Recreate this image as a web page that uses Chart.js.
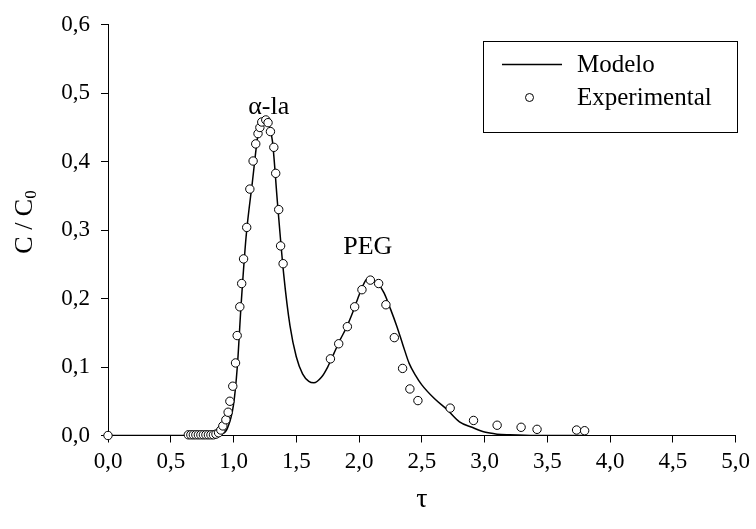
<!DOCTYPE html>
<html>
<head>
<meta charset="utf-8">
<script src="https://cdn.jsdelivr.net/npm/chart.js@4.4.1/dist/chart.umd.min.js"></script>
<style>
  html, body { margin: 0; padding: 0; background: #fff; }
  #wrap { width: 756px; height: 529px; }
</style>
</head>
<body>
<div id="wrap"><canvas id="myChart"></canvas></div>
<script>
// experimental points (tau, C/C0)
const expTau = [0, 0.64, 0.66, 0.68, 0.70, 0.72, 0.74, 0.76, 0.78, 0.80, 0.82, 0.84, 0.86,
  0.881, 0.899, 0.915, 0.939, 0.957, 0.971, 0.994, 1.016, 1.029, 1.050, 1.065, 1.080, 1.105,
  1.130, 1.156, 1.177, 1.195, 1.210, 1.225, 1.257, 1.275, 1.294, 1.321, 1.336, 1.360, 1.375, 1.395,
  1.772, 1.838, 1.907, 1.965, 2.023, 2.090, 2.156, 2.214, 2.281, 2.347, 2.405, 2.469,
  2.726, 2.912, 3.100, 3.291, 3.418, 3.733, 3.797];
const expC = [0, 0.001, 0.001, 0.001, 0.001, 0.001, 0.001, 0.001, 0.001, 0.001, 0.001, 0.001, 0.002,
  0.004, 0.008, 0.014, 0.023, 0.034, 0.050, 0.072, 0.106, 0.146, 0.188, 0.222, 0.258, 0.304,
  0.360, 0.401, 0.426, 0.441, 0.450, 0.458, 0.461, 0.457, 0.444, 0.421, 0.383, 0.330, 0.277, 0.251,
  0.112, 0.134, 0.159, 0.188, 0.213, 0.227, 0.222, 0.191, 0.143, 0.098, 0.068, 0.051,
  0.040, 0.022, 0.015, 0.012, 0.009, 0.008, 0.007];

// model curve
const modTau = [0, 0.5, 0.7, 0.8, 0.85, 0.9, 0.95, 1.0, 1.03, 1.06, 1.1, 1.15, 1.2, 1.25, 1.28,
  1.31, 1.35, 1.4, 1.45, 1.5, 1.55, 1.6, 1.64, 1.7, 1.75, 1.8, 1.85, 1.9, 1.95, 2.0, 2.05, 2.07,
  2.1, 2.15, 2.2, 2.25, 2.3, 2.35, 2.4, 2.45, 2.5, 2.6, 2.7, 2.8, 2.9, 3.0, 3.1, 3.2, 3.4, 3.82];
const modC = [0, 0, 0, 0.0005, 0.001, 0.002, 0.01, 0.045, 0.10, 0.19, 0.29, 0.37, 0.445, 0.463, 0.455,
  0.43, 0.34, 0.235, 0.16, 0.115, 0.09, 0.079, 0.077, 0.085, 0.10, 0.12, 0.14, 0.158, 0.18, 0.205, 0.226, 0.229,
  0.228, 0.222, 0.208, 0.185, 0.16, 0.132, 0.105, 0.088, 0.074, 0.054, 0.038, 0.02, 0.012, 0.005, 0.002, 0.001, 0, 0];

const xTicks = [0, 0.5, 1, 1.5, 2, 2.5, 3, 3.5, 4, 4.5, 5];
const yTicks = [0, 0.1, 0.2, 0.3, 0.4, 0.5, 0.6];

const labels = [
  { text: 'α-la', x: 1.28, y: 0.479 },
  { text: 'PEG', x: 2.07, y: 0.275 }
];

const serif = '"Liberation Serif", "Times New Roman", serif';
const fmt = v => v.toFixed(1).replace('.', ',');

const extras = {
  id: 'extras',
  afterDraw(chart) {
    const ctx = chart.ctx;
    const a = chart.chartArea;
    const xs = chart.scales.x, ys = chart.scales.y;
    ctx.save();
    ctx.fillStyle = '#000';
    ctx.strokeStyle = '#000';
    // peak labels
    ctx.font = '26px ' + serif;
    ctx.textAlign = 'center';
    ctx.textBaseline = 'middle';
    labels.forEach(l => ctx.fillText(l.text, xs.getPixelForValue(l.x), ys.getPixelForValue(l.y)));
    // x title
    ctx.font = '28px ' + serif;
    ctx.fillText('τ', (a.left + a.right) / 2, 500);
    // y title with subscript
    ctx.save();
    ctx.translate(25, 222);
    ctx.rotate(-Math.PI / 2);
    ctx.font = '26px ' + serif;
    const main = 'C / C';
    const w1 = ctx.measureText(main).width;
    ctx.font = '17px ' + serif;
    const w2 = ctx.measureText('0').width;
    const x0 = -(w1 + w2) / 2;
    ctx.textAlign = 'left';
    ctx.font = '26px ' + serif;
    ctx.fillText(main, x0, 0);
    ctx.font = '17px ' + serif;
    ctx.fillText('0', x0 + w1, 7);
    ctx.restore();
    // legend box
    const bx = 483, by = 41, bw = 254, bh = 91;
    ctx.lineWidth = 1;
    ctx.strokeRect(bx + 0.5, by + 0.5, bw, bh);
    ctx.lineWidth = 1.5;
    ctx.beginPath();
    ctx.moveTo(502, 64.5);
    ctx.lineTo(562, 64.5);
    ctx.stroke();
    ctx.lineWidth = 1;
    ctx.beginPath();
    ctx.arc(529.5, 97.5, 4, 0, Math.PI * 2);
    ctx.fillStyle = '#fff';
    ctx.fill();
    ctx.stroke();
    ctx.fillStyle = '#000';
    ctx.font = '25px ' + serif;
    ctx.textAlign = 'left';
    ctx.fillText(chart.data.datasets[0].label, 577, 65);
    ctx.fillText(chart.data.datasets[1].label, 577, 98);
    ctx.restore();
  }
};

const ctx = document.getElementById('myChart').getContext('2d');
const grafica = new Chart(ctx, {
  type: 'scatter',
  data: {
    datasets: [{
      label: 'Modelo',
      data: modTau.map((t, i) => ({ x: t, y: modC[i] })),
      showLine: true,
      borderColor: '#000',
      borderWidth: 1.5,
      pointRadius: 0,
      cubicInterpolationMode: 'monotone',
      order: 2
    }, {
      label: 'Experimental',
      data: expTau.map((t, i) => ({ x: t, y: expC[i] })),
      showLine: false,
      clip: false,
      pointRadius: 4.2,
      pointBackgroundColor: '#fff',
      pointBorderColor: '#000',
      pointBorderWidth: 1,
      order: 1
    }]
  },
  options: {
    responsive: true,
    maintainAspectRatio: false,
    animation: false,
    layout: { padding: { top: 22, right: 19, left: 0, bottom: 0 } },
    plugins: { legend: { display: false }, tooltip: { enabled: false } },
    scales: {
      x: {
        type: 'linear',
        min: 0, max: 5,
        afterBuildTicks: s => { s.ticks = xTicks.map(v => ({ value: v })); },
        afterFit: s => { s.height = 93.5; },
        ticks: { callback: fmt, color: '#000', font: { family: serif, size: 23 }, padding: 6, maxRotation: 0 },
        grid: { drawOnChartArea: false, drawTicks: true, tickLength: 7, color: '#000', lineWidth: 1 },
        border: { display: true, color: '#000', width: 1 }
      },
      y: {
        min: 0, max: 0.6,
        afterBuildTicks: s => { s.ticks = yTicks.map(v => ({ value: v })); },
        afterFit: s => { s.width = 108; },
        ticks: { callback: fmt, color: '#000', font: { family: serif, size: 23 }, padding: 11 },
        grid: { drawOnChartArea: false, drawTicks: true, tickLength: 7, color: '#000', lineWidth: 1 },
        border: { display: true, color: '#000', width: 1 }
      }
    }
  },
  plugins: [extras]
});
</script>
</body>
</html>
